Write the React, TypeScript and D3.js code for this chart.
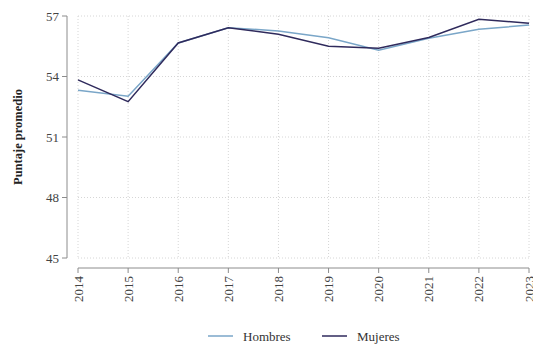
import React from "react";
import * as d3 from "d3";

const years = [2014, 2015, 2016, 2017, 2018, 2019, 2020, 2021, 2022, 2023];
const hombres = [53.32, 53.02, 55.66, 56.42, 56.26, 55.92, 55.3, 55.9, 56.34, 56.55];
const mujeres = [53.83, 52.75, 55.66, 56.42, 56.1, 55.5, 55.4, 55.93, 56.84, 56.64];
const yTicks = [45, 48, 51, 54, 57];
const seriesNames = ["Hombres", "Mujeres"];
const seriesColors = ["#7aa6c8", "#2f2a5c"];

export default function App() {
  const W = 533, H = 345;
  const x = d3.scaleLinear().domain([2014, 2023]).range([78, 529]);
  const y = d3.scaleLinear().domain([45, 57]).range([258, 16]);
  const line = d3.line<number>().x((_, i) => x(years[i])).y((d) => y(d));
  const font = "serif";
  const axisColor = "#8c8c8c";
  const series = [hombres, mujeres];
  return (
    <svg width={W} height={H} style={{ position: "absolute", left: 0, top: 0 }} fontFamily={font}>
      {yTicks.map((t) => (
        <line key={"gy" + t} x1={78} x2={529} y1={y(t)} y2={y(t)} stroke="#d6d6d6" strokeWidth={1} strokeDasharray="1,2" />
      ))}
      {years.map((yr) => (
        <line key={"gx" + yr} x1={x(yr)} x2={x(yr)} y1={16} y2={258} stroke="#d6d6d6" strokeWidth={1} strokeDasharray="1,2" />
      ))}
      <line x1={67} x2={67} y1={y(57)} y2={y(45)} stroke={axisColor} />
      {yTicks.map((t) => (
        <g key={"yt" + t}>
          <line x1={62} x2={67} y1={y(t)} y2={y(t)} stroke={axisColor} />
          <text x={59} y={y(t)} dy="0.35em" textAnchor="end" fontSize={13} fill="#444">{t}</text>
        </g>
      ))}
      <line x1={x(2014)} x2={x(2023)} y1={268} y2={268} stroke={axisColor} />
      {years.map((yr) => (
        <g key={"xt" + yr}>
          <line x1={x(yr)} x2={x(yr)} y1={268} y2={273} stroke={axisColor} />
          <text transform={`translate(${x(yr)},276) rotate(-90)`} dy="0.35em" textAnchor="end" fontSize={13} fill="#444">{yr}</text>
        </g>
      ))}
      <text transform="translate(18,137) rotate(-90)" textAnchor="middle" dy="0.35em" fontSize={12.5} fontWeight="bold" fill="#222">Puntaje promedio</text>
      {series.map((s, i) => (
        <path key={"s" + i} d={line(s) || ""} fill="none" stroke={seriesColors[i]} strokeWidth={1.5} />
      ))}
      {seriesNames.map((n, i) => {
        const lx = 208 + i * 114;
        return (
          <g key={"lg" + n}>
            <line x1={lx} x2={lx + 25} y1={336} y2={336} stroke={seriesColors[i]} strokeWidth={1.5} />
            <text x={lx + 35} y={336} dy="0.35em" fontSize={13} fill="#333">{n}</text>
          </g>
        );
      })}
    </svg>
  );
}
